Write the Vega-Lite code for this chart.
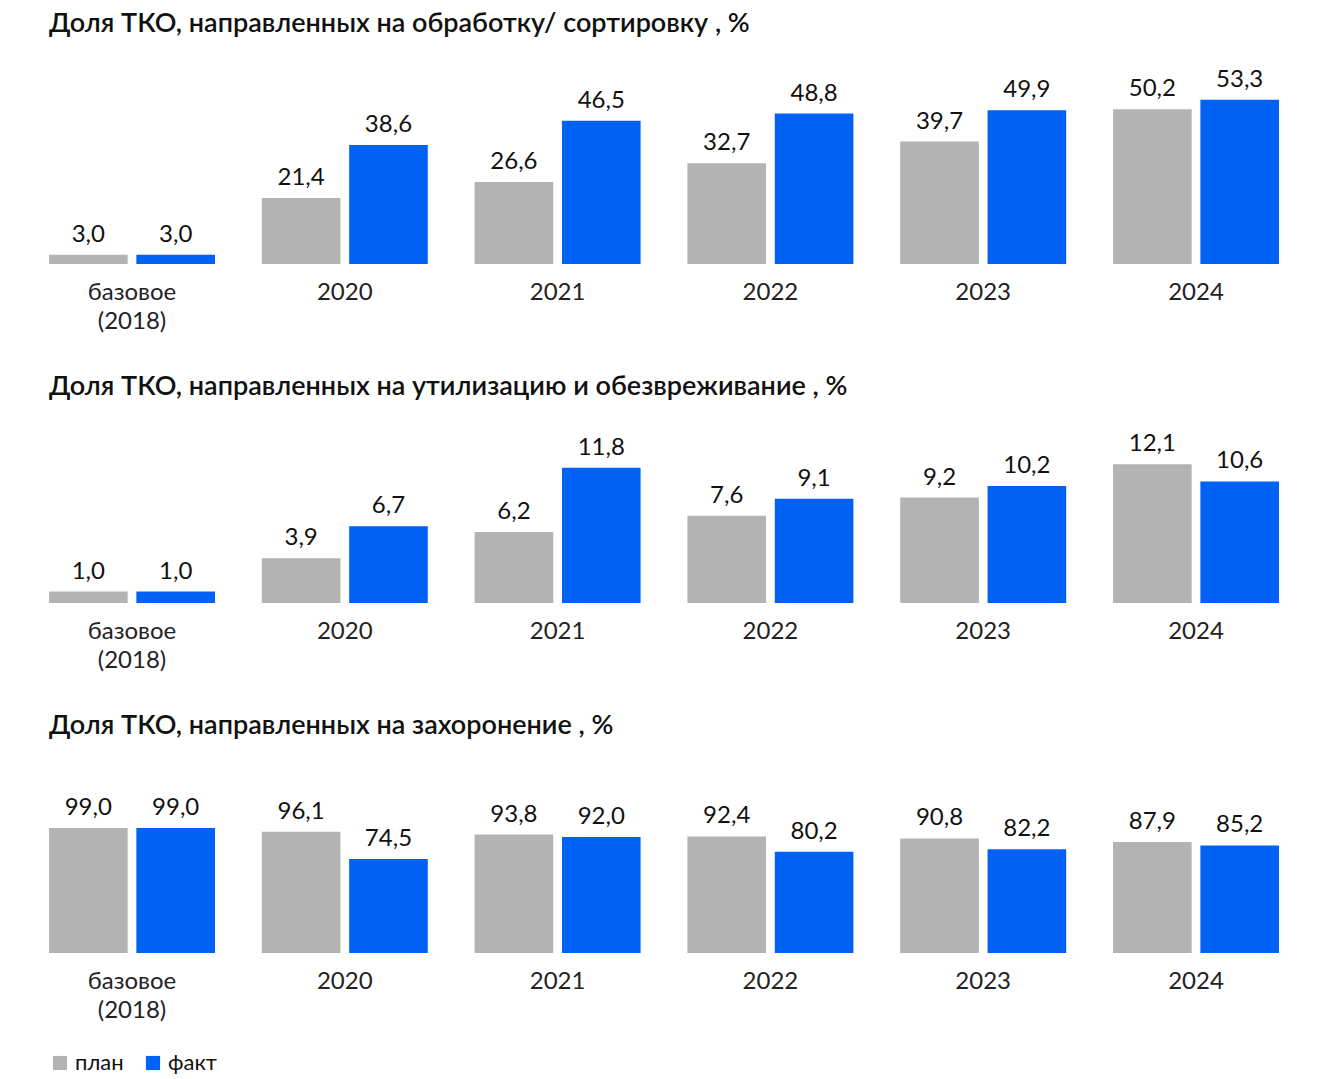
{
  "$schema": "https://vega.github.io/schema/vega-lite/v6.json",
  "background": "white",
  "padding": {"left": 49, "top": 9, "right": 10, "bottom": 10},
  "config": {
    "view": {"stroke": null},
    "font": "Lato",
    "title": {"anchor": "start", "fontSize": 27, "fontWeight": 600, "color": "#111", "offset": 30, "font": "Lato"},
    "axis": {"domain": false, "ticks": false, "grid": false, "labelFontSize": 24, "labelColor": "#222", "labelPadding": 16, "labelAngle": 0, "title": null, "labelFont": "Lato", "labelLineHeight": 29}
  },
  "resolve": {"scale": {"color": "independent"}, "legend": {"color": "independent"}},
  "datasets": {
    "d": [
      {"p": 1, "g": "базовое\n(2018)", "s": "план", "v": 3.0, "t": "3,0"},
      {"p": 1, "g": "базовое\n(2018)", "s": "факт", "v": 3.0, "t": "3,0"},
      {"p": 1, "g": "2020", "s": "план", "v": 21.4, "t": "21,4"},
      {"p": 1, "g": "2020", "s": "факт", "v": 38.6, "t": "38,6"},
      {"p": 1, "g": "2021", "s": "план", "v": 26.6, "t": "26,6"},
      {"p": 1, "g": "2021", "s": "факт", "v": 46.5, "t": "46,5"},
      {"p": 1, "g": "2022", "s": "план", "v": 32.7, "t": "32,7"},
      {"p": 1, "g": "2022", "s": "факт", "v": 48.8, "t": "48,8"},
      {"p": 1, "g": "2023", "s": "план", "v": 39.7, "t": "39,7"},
      {"p": 1, "g": "2023", "s": "факт", "v": 49.9, "t": "49,9"},
      {"p": 1, "g": "2024", "s": "план", "v": 50.2, "t": "50,2"},
      {"p": 1, "g": "2024", "s": "факт", "v": 53.3, "t": "53,3"},
      {"p": 2, "g": "базовое\n(2018)", "s": "план", "v": 1.0, "t": "1,0"},
      {"p": 2, "g": "базовое\n(2018)", "s": "факт", "v": 1.0, "t": "1,0"},
      {"p": 2, "g": "2020", "s": "план", "v": 3.9, "t": "3,9"},
      {"p": 2, "g": "2020", "s": "факт", "v": 6.7, "t": "6,7"},
      {"p": 2, "g": "2021", "s": "план", "v": 6.2, "t": "6,2"},
      {"p": 2, "g": "2021", "s": "факт", "v": 11.8, "t": "11,8"},
      {"p": 2, "g": "2022", "s": "план", "v": 7.6, "t": "7,6"},
      {"p": 2, "g": "2022", "s": "факт", "v": 9.1, "t": "9,1"},
      {"p": 2, "g": "2023", "s": "план", "v": 9.2, "t": "9,2"},
      {"p": 2, "g": "2023", "s": "факт", "v": 10.2, "t": "10,2"},
      {"p": 2, "g": "2024", "s": "план", "v": 12.1, "t": "12,1"},
      {"p": 2, "g": "2024", "s": "факт", "v": 10.6, "t": "10,6"},
      {"p": 3, "g": "базовое\n(2018)", "s": "план", "v": 99.0, "t": "99,0"},
      {"p": 3, "g": "базовое\n(2018)", "s": "факт", "v": 99.0, "t": "99,0"},
      {"p": 3, "g": "2020", "s": "план", "v": 96.1, "t": "96,1"},
      {"p": 3, "g": "2020", "s": "факт", "v": 74.5, "t": "74,5"},
      {"p": 3, "g": "2021", "s": "план", "v": 93.8, "t": "93,8"},
      {"p": 3, "g": "2021", "s": "факт", "v": 92.0, "t": "92,0"},
      {"p": 3, "g": "2022", "s": "план", "v": 92.4, "t": "92,4"},
      {"p": 3, "g": "2022", "s": "факт", "v": 80.2, "t": "80,2"},
      {"p": 3, "g": "2023", "s": "план", "v": 90.8, "t": "90,8"},
      {"p": 3, "g": "2023", "s": "факт", "v": 82.2, "t": "82,2"},
      {"p": 3, "g": "2024", "s": "план", "v": 87.9, "t": "87,9"},
      {"p": 3, "g": "2024", "s": "факт", "v": 85.2, "t": "85,2"}
    ]
  },
  "spacing": 40,
  "vconcat": [
    {
      "title": "Доля ТКО, направленных на обработку/ сортировку , %",
      "data": {"name": "d"},
      "transform": [{"filter": "datum.p == 1"}],
      "width": 1230, "height": 185,
      "encoding": {
        "x": {"field": "g", "type": "nominal", "sort": null, "scale": {"paddingInner": 0.22, "paddingOuter": 0.0}, "axis": {"labelExpr": "split(datum.label, '\\n')"}},
        "xOffset": {"field": "s", "type": "nominal", "scale": {"paddingInner": 0.1}},
        "y": {"field": "v", "type": "quantitative", "scale": {"domain": [0, 60]}, "axis": null},
        "color": {"field": "s", "type": "nominal", "scale": {"domain": ["план", "факт"], "range": ["#b3b3b3", "#0062f5"]}, "legend": null}
      },
      "layer": [
        {"mark": {"type": "bar"}},
        {"mark": {"type": "text", "dy": -20, "fontSize": 24}, "encoding": {"text": {"field": "t"}, "color": {"value": "#111"}}}
      ]
    },
    {
      "title": "Доля ТКО, направленных на утилизацию и обезвреживание , %",
      "data": {"name": "d"},
      "transform": [{"filter": "datum.p == 2"}],
      "width": 1230, "height": 172,
      "encoding": {
        "x": {"field": "g", "type": "nominal", "sort": null, "scale": {"paddingInner": 0.22, "paddingOuter": 0.0}, "axis": {"labelExpr": "split(datum.label, '\\n')"}},
        "xOffset": {"field": "s", "type": "nominal", "scale": {"paddingInner": 0.1}},
        "y": {"field": "v", "type": "quantitative", "scale": {"domain": [0, 15]}, "axis": null},
        "color": {"field": "s", "type": "nominal", "scale": {"domain": ["план", "факт"], "range": ["#b3b3b3", "#0062f5"]}, "legend": null}
      },
      "layer": [
        {"mark": {"type": "bar"}},
        {"mark": {"type": "text", "dy": -20, "fontSize": 24}, "encoding": {"text": {"field": "t"}, "color": {"value": "#111"}}}
      ]
    },
    {
      "title": "Доля ТКО, направленных на захоронение , %",
      "data": {"name": "d"},
      "transform": [{"filter": "datum.p == 3"}],
      "width": 1230, "height": 183,
      "encoding": {
        "x": {"field": "g", "type": "nominal", "sort": null, "scale": {"paddingInner": 0.22, "paddingOuter": 0.0}, "axis": {"labelExpr": "split(datum.label, '\\n')"}},
        "xOffset": {"field": "s", "type": "nominal", "scale": {"paddingInner": 0.1}},
        "y": {"field": "v", "type": "quantitative", "scale": {"domain": [0, 145]}, "axis": null},
        "color": {"field": "s", "type": "nominal", "scale": {"domain": ["план", "факт"], "range": ["#b3b3b3", "#0062f5"]},
          "legend": {"title": null, "orient": "bottom", "direction": "horizontal", "symbolType": "square", "symbolSize": 200, "symbolStrokeWidth": 0, "labelFontSize": 22, "labelColor": "#111", "offset": 30, "columnPadding": 18}}
      },
      "layer": [
        {"mark": {"type": "bar"}},
        {"mark": {"type": "text", "dy": -20, "fontSize": 24}, "encoding": {"text": {"field": "t"}, "color": {"value": "#111"}}}
      ]
    }
  ]
}
